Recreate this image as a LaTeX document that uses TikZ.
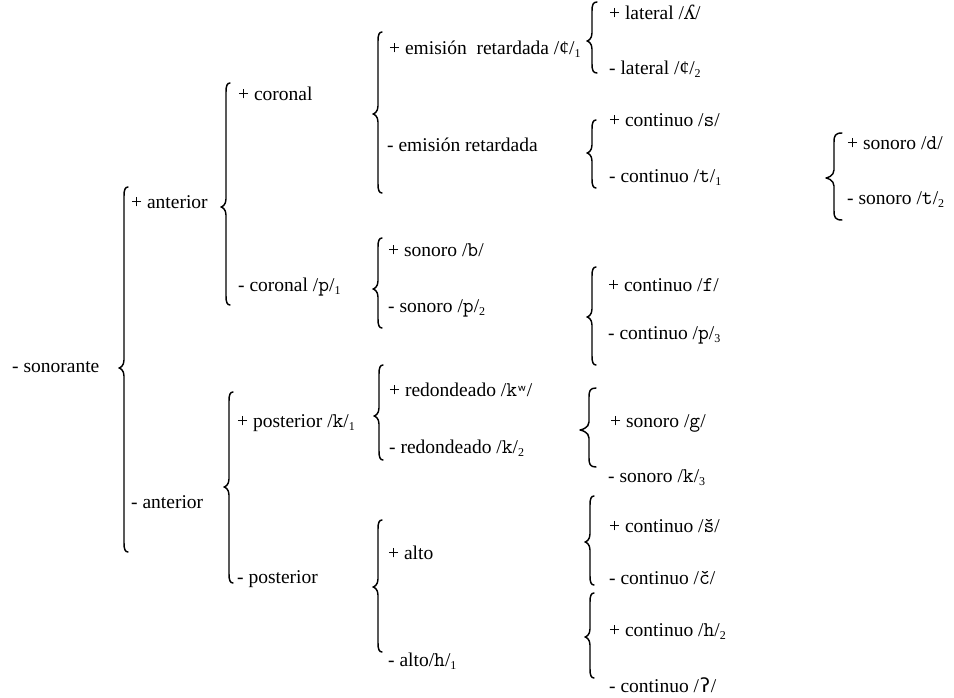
\documentclass[tikz,border=0pt]{standalone}
\usepackage{fontspec}
\setmainfont{Liberation Serif}
\newfontfamily\ph{Latin Modern Mono}
\newfontfamily\ipamono{DejaVu Sans Mono}
\newfontfamily\ipaserif{DejaVu Serif}
\newcommand\subn[1]{\raisebox{-0.35ex}{\fontsize{12}{12}\selectfont #1}}
\newcommand\phn[1]{{\ph\fontsize{21}{22}\selectfont #1}}
% brace: line x, top y, tip y, bottom y, tip width, hook width
\newcommand\wbrace[6]{%
  \draw[bracestyle] (#1+#6,#2) .. controls (#1+1,#2) and (#1,#2+3) .. (#1,#2+9)
    -- (#1,#3-8) .. controls (#1,#3-2) and (#1-#5+1,#3) .. (#1-#5,#3)
    .. controls (#1-#5+1,#3) and (#1,#3+2) .. (#1,#3+8)
    -- (#1,#4-9) .. controls (#1,#4-3) and (#1+1,#4) .. (#1+#6,#4);}
\tikzset{
  lbl/.style={anchor=west, inner sep=0pt, text height=13pt, text depth=4pt,
    font=\fontsize{19.5}{22}\selectfont},
  bracestyle/.style={line width=1.45pt, line cap=round, line join=round}
}
\begin{document}
\begin{tikzpicture}[x=1pt,y=-1pt]
\useasboundingbox (0,0) rectangle (954,698);
% labels
\node[lbl] (son) at (12,368) {- sonorante};
\node[lbl] (pant) at (131,204) {+ anterior};
\node[lbl] (mant) at (131,504) {- anterior};
\node[lbl] (pcor) at (238,96) {+ coronal};
\node[lbl] (mcor) at (238,287) {- coronal /\phn{p}/\subn{1}};
\node[lbl] (pemi) at (389,50) {+ emisión\ \ retardada /¢/\subn{1}};
\node[lbl] (memi) at (387,147) {- emisión retardada};
\node[lbl] (plat) at (609,15) {+ lateral /{\ipaserif ʎ}/};
\node[lbl] (mlat) at (609,70) {- lateral /¢/\subn{2}};
\node[lbl] (pcs) at (609,122) {+ continuo /\phn{s}/};
\node[lbl] (mct) at (609,178) {- continuo /\phn{t}/\subn{1}};
\node[lbl] (psd) at (847,145) {+ sonoro /\phn{d}/};
\node[lbl] (mst) at (847,200) {- sonoro /\phn{t}/\subn{2}};
\node[lbl] (psb) at (388,252) {+ sonoro /\phn{b}/};
\node[lbl] (msp) at (388,308) {- sonoro /\phn{p}/\subn{2}};
\node[lbl] (pcf) at (608,287) {+ continuo /\phn{f}/};
\node[lbl] (mcp) at (608,335) {- continuo /\phn{p}/\subn{3}};
\node[lbl] (ppos) at (237,423) {+ posterior /\phn{k}/\subn{1}};
\node[lbl] (mpos) at (237,579) {- posterior};
\node[lbl] (pred) at (389,392) {+ redondeado /\phn{k}{\ipamono\fontsize{16}{16}\selectfont ʷ}/};
\node[lbl] (mred) at (389,449) {- redondeado /\phn{k}/\subn{2}};
\node[lbl] (psg) at (610,423) {+ sonoro /\phn{g}/};
\node[lbl] (msk) at (608,478) {- sonoro /\phn{k}/\subn{3}};
\node[lbl] (palto) at (388,555) {+ alto};
\node[lbl] (malto) at (388,662) {- alto/\phn{h}/\subn{1}};
\node[lbl] (pcsh) at (609,528) {+ continuo /\phn{š}/};
\node[lbl] (mcch) at (609,580) {- continuo /\phn{č}/};
\node[lbl] (pch) at (609,632) {+ continuo /\phn{h}/\subn{2}};
\node[lbl] (mcq) at (609,688) {- continuo /{\ipamono ʔ}/};
% braces
\wbrace{124}{187}{368}{552}{5}{4}
\wbrace{226}{83}{207}{305}{5}{4}
\wbrace{378}{32}{114}{193}{5}{4}
\wbrace{592}{2}{41}{73}{5}{5}
\wbrace{592}{120}{153}{188}{5}{4}
\wbrace{834}{133}{178}{220}{8}{8}
\wbrace{378}{238}{289}{328}{5}{4}
\wbrace{592}{267}{317}{365}{5}{4}
\wbrace{229}{392}{487}{583}{5}{4}
\wbrace{379}{365}{416}{460}{5}{4}
\wbrace{589}{388}{430}{467}{9}{7}
\wbrace{378}{520}{587}{652}{5}{4}
\wbrace{590}{496}{542}{585}{5}{4}
\wbrace{590}{593}{637}{678}{5}{4}
\end{tikzpicture}
\end{document}
